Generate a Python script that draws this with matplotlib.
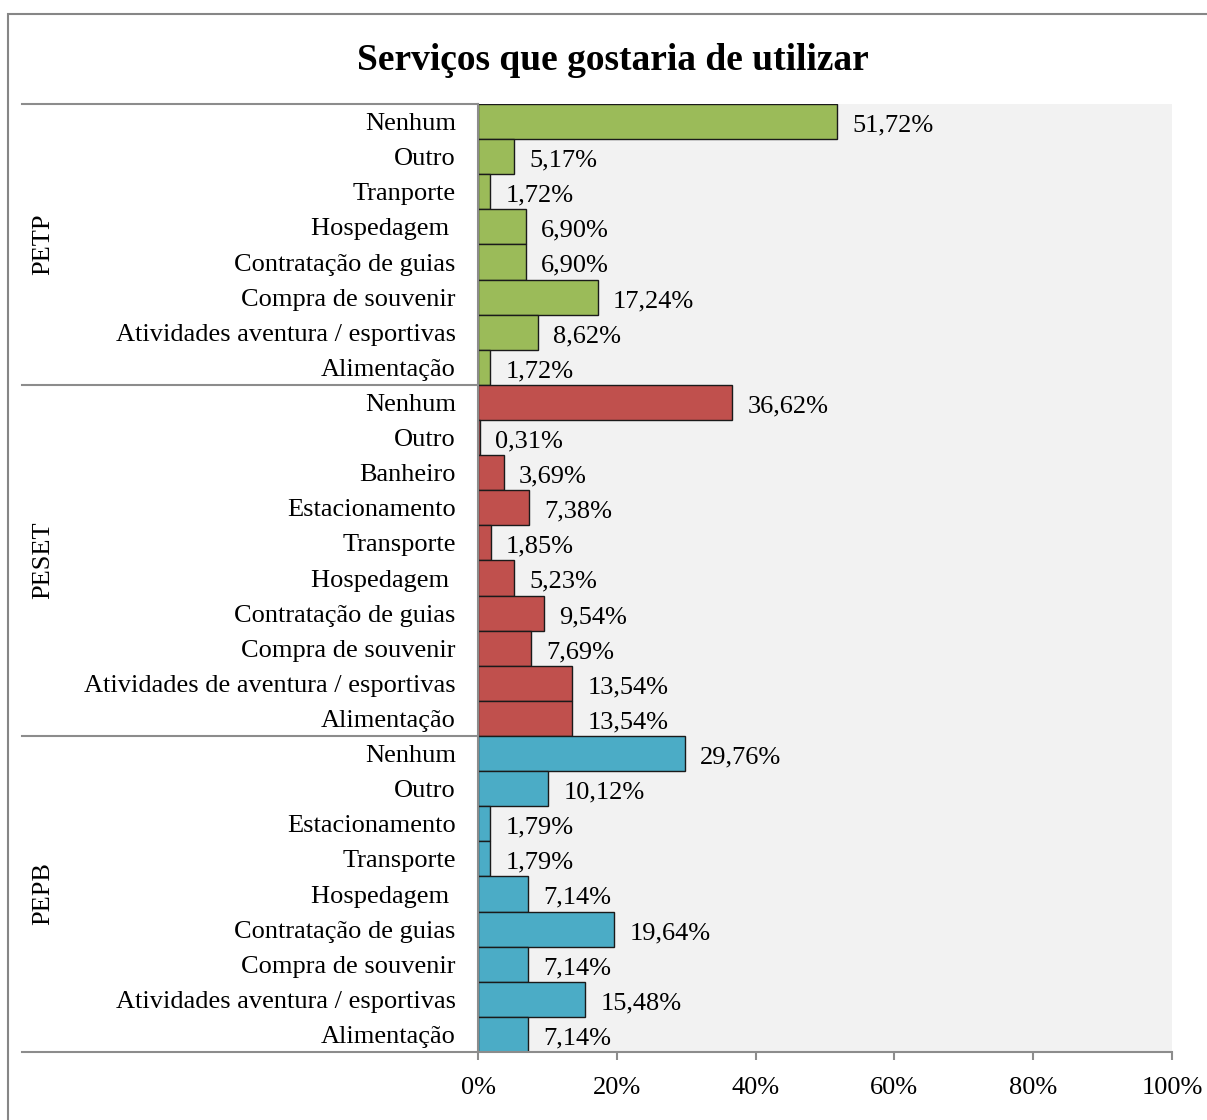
import matplotlib.pyplot as plt
from matplotlib.patches import Rectangle
from matplotlib.transforms import blended_transform_factory

plt.rcParams["font.family"] = ["Liberation Serif", "DejaVu Serif"]

# --- data ---
petp_labels = ["Nenhum", "Outro", "Tranporte", "Hospedagem ", "Contratação de guias",
               "Compra de souvenir", "Atividades aventura / esportivas", "Alimentação"]
petp_values = [51.72, 5.17, 1.72, 6.90, 6.90, 17.24, 8.62, 1.72]

peset_labels = ["Nenhum", "Outro", "Banheiro", "Estacionamento", "Transporte", "Hospedagem ",
                "Contratação de guias", "Compra de souvenir",
                "Atividades de aventura / esportivas", "Alimentação"]
peset_values = [36.62, 0.31, 3.69, 7.38, 1.85, 5.23, 9.54, 7.69, 13.54, 13.54]

pepb_labels = ["Nenhum", "Outro", "Estacionamento", "Transporte", "Hospedagem ",
               "Contratação de guias", "Compra de souvenir",
               "Atividades aventura / esportivas", "Alimentação"]
pepb_values = [29.76, 10.12, 1.79, 1.79, 7.14, 19.64, 7.14, 15.48, 7.14]

groups = ["PETP", "PESET", "PEPB"]
colors = ["#9BBB59", "#C0504D", "#4BACC6"]

FS = 19
W, H = 1207, 1120
fig = plt.figure(figsize=(W / 100, H / 100), dpi=100)
ax = fig.add_axes([478 / W, 1 - 1052 / H, (1172 - 478) / W, (1052 - 104) / H])
ax.set_facecolor("#F2F2F2")

all_labels = []
pos = 0
bounds = [-0.5]
blend = blended_transform_factory(ax.transAxes, ax.transData)
for name, labels, values, col in zip(groups, [petp_labels, peset_labels, pepb_labels],
                                     [petp_values, peset_values, pepb_values], colors):
    ys = list(range(pos, pos + len(values)))
    ax.barh(ys, values, height=1.0, color=col, edgecolor="#1a1a1a", linewidth=1.0)
    for y, v in zip(ys, values):
        ax.annotate(f"{v:.2f}%".replace(".", ","), (v, y), xytext=(11, -1),
                    textcoords="offset points", va="center_baseline", ha="left", fontsize=FS)
    all_labels += labels
    mid = pos + (len(values) - 1) / 2
    ax.text(-0.627, mid, name, transform=blend, rotation=90, ha="center", va="center",
            fontsize=FS)
    pos += len(values)
    bounds.append(pos - 0.5)

for b in bounds:
    ax.plot([-0.657, 0], [b, b], transform=blend, color="#8C8C8C", lw=1.5, clip_on=False)

ax.set_ylim(pos - 0.5, -0.5)
ax.set_yticks(range(pos))
ax.set_yticklabels(all_labels, fontsize=FS, va="center_baseline")
ax.tick_params(axis="y", length=0, pad=16)

ax.set_xlim(0, 100)
ax.set_xticks(range(0, 101, 20))
ax.set_xticklabels([f"{t}%" for t in range(0, 101, 20)], fontsize=FS)
ax.tick_params(axis="x", length=6, width=1.5, color="#8C8C8C", pad=12)

for s in ["top", "right"]:
    ax.spines[s].set_visible(False)
ax.spines["left"].set_color("#8C8C8C")
ax.spines["left"].set_linewidth(1.5)
ax.spines["bottom"].set_color("#8C8C8C")
ax.spines["bottom"].set_linewidth(1.5)

fig.text(613 / W, 1 - 60 / H, "Serviços que gostaria de utilizar", ha="center", va="center",
         fontsize=27, fontweight="bold")

fig.add_artist(Rectangle((7.5 / W, -0.1), 1.2, 1.1 - 14 / H, transform=fig.transFigure,
                         fill=False, edgecolor="#868686", lw=1.5))

fig.savefig("out.png", dpi=100)
